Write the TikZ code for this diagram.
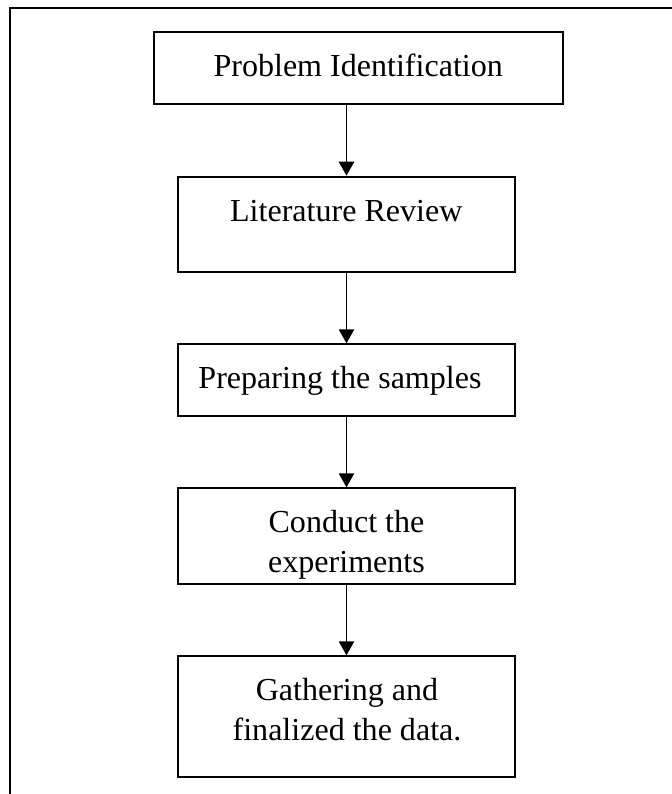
\documentclass[tikz,border=0pt]{standalone}
\usepackage{fontspec}
\setmainfont{Liberation Serif}
\usetikzlibrary{arrows.meta}

\tikzset{
    stagebox/.style={draw, line width=1.4pt, inner sep=0pt},
    stagetext/.style={inner sep=0pt, align=center, font=\fontsize{22.8}{28.2}\selectfont},
    flowarrow/.style={line width=1.2pt, -{Triangle[width=10.9pt,length=10pt]}}
}

\begin{document}
\begin{tikzpicture}
    \useasboundingbox (0,0) rectangle (16.8,-19.85);
    \draw[line width=1.4pt] (0.25,-20.3) -- (0.25,-0.2075) -- (17.3,-0.2075);

    \node[stagebox, minimum width=10.225cm, minimum height=1.8cm] (prob) at (8.9625,-1.7075) {};
    \node[stagebox, minimum width=8.41cm, minimum height=2.375cm] (lit) at (8.6625,-5.605) {};
    \node[stagebox, minimum width=8.41cm, minimum height=1.785cm] (prep) at (8.6625,-9.5) {};
    \node[stagebox, minimum width=8.41cm, minimum height=2.385cm] (expt) at (8.6625,-13.4) {};
    \node[stagebox, minimum width=8.41cm, minimum height=3.01cm] (data) at (8.6625,-17.9125) {};

    \node[stagetext] (probtxt) at (8.955,-1.635) {Problem Identification};
    \node[stagetext] (littxt) at (8.6575,-5.2775) {Literature Review};
    \node[stagetext] (preptxt) at (8.5,-9.52) {Preparing the samples};
    \node[stagetext] (expttxt) at (8.6625,-13.615) {Conduct the\\experiments};
    \node[stagetext] (datatxt) at (8.675,-17.7325) {Gathering and\\finalized the data.};

    \draw[flowarrow] (lit.north |- prob.south) -- (lit.north);
    \draw[flowarrow] (lit.south) -- (prep.north);
    \draw[flowarrow] (prep.south) -- (expt.north);
    \draw[flowarrow] (expt.south) -- (data.north);
\end{tikzpicture}
\end{document}
